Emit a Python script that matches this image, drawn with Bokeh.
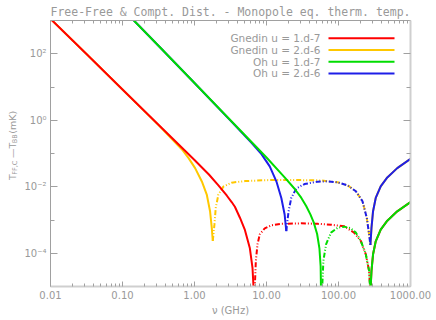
import math
from bokeh.plotting import figure
from bokeh.layouts import row
from bokeh.models import (Range1d, LogAxis, FixedTicker, CustomJSTickFormatter,
                          Label, Arrow)
from bokeh.core.properties import value
from bokeh.embed import file_html
from bokeh.resources import INLINE

# ---------------- data ----------------
# frequency in GHz, signed T_FF,C - T_BB in mK (negative parts drawn dash-dot)
gnedin_1e7_nu = [0.01, 0.0316, 0.1, 0.316, 1.0, 1.585, 2.148, 2.818, 3.281, 3.639, 4.276, 5.012, 5.875, 6.397, 6.668,
                 6.855, 7.112, 7.499, 8.072, 9.462, 11.70, 16.07, 30.34, 51.52, 78.70, 120.2, 165.2, 204.2, 239.3, 266.1, 277.3,
                 287.1, 302.0, 328.9, 385.5, 476.4, 654.6, 1000.0]
gnedin_1e7_dT = [1122, 97.7, 8.41, 0.728, 0.0635, 0.0234, 0.01096, 0.00537, 0.00347, 0.00251, 0.00117, 5.01e-4, 1.41e-4, 3.55e-5, 6.3e-6,
                 -7.9e-6, -5.89e-5, -1.86e-4, -3.72e-4, -5.62e-4, -6.92e-4, -7.67e-4, -7.94e-4, -7.67e-4, -7.24e-4, -6.46e-4, -4.13e-4, -2.34e-4, -9.33e-5, -2.95e-5, -6.3e-6,
                 2.95e-5, 9.33e-5, 2.29e-4, 5.13e-4, 9.55e-4, 1.82e-3, 3.47e-3]

gnedin_2e6_nu = [0.01, 0.0316, 0.1, 0.316, 0.670, 0.828, 1.02, 1.265, 1.48, 1.644, 1.738, 1.795,
                 1.892, 1.972, 2.148, 2.518, 3.281, 5.012, 10.52, 30.34, 57.28, 70.79, 97.27, 133.7, 174.2, 215.3, 247.2, 266.1, 277.3,
                 287.1, 302.0, 328.9, 385.5, 476.4, 654.6, 1000.0]
gnedin_2e6_dT = [1122, 97.7, 8.41, 0.713, 0.132, 0.0724, 0.0363, 0.01445, 0.00582, 0.00184, 5.82e-4, 2.34e-4,
                 -7.36e-4, -2.31e-3, -5.82e-3, -0.01009, -0.0133, -0.01479, -0.01585, -0.01585, -0.01549, -0.01455, -0.01358, -0.01104, -0.00731, -0.00366, -0.00116, -3.7e-4, -1.78e-4,
                 5.82e-4, 1.84e-3, 4.6e-3, 0.0103, 0.0191, 0.0363, 0.0695]

oh_1e7_nu = [0.126, 0.144, 0.316, 1.0, 3.162, 10.0, 17.86, 24.55, 30.34, 35.56, 40.83, 45.39, 50.47, 54.33, 56.49, 57.28,
             59.16, 61.66, 67.14, 78.70, 97.27, 120.2, 148.6, 174.2, 204.2, 239.3, 266.1, 277.3,
             287.1, 302.0, 328.9, 385.5, 476.4, 654.6, 1000.0]
oh_1e7_dT = [1349, 1000, 173.8, 13.18, 1.0, 0.0759, 0.01905, 0.00871, 0.00468, 0.00263, 0.00145, 8.32e-4, 3.8e-4, 1.41e-4, 3.98e-5, 5e-6,
             -7.9e-6, -5.89e-5, -1.86e-4, -4.17e-4, -5.82e-4, -6.31e-4, -5.62e-4, -4.17e-4, -2.34e-4, -9.33e-5, -2.95e-5, -6.3e-6,
             2.95e-5, 9.33e-5, 2.29e-4, 5.13e-4, 9.55e-4, 1.82e-3, 3.47e-3]

oh_2e6_nu = [0.126, 0.144, 0.316, 1.0, 3.162, 6.194, 8.511, 11.09, 13.71, 16.07, 17.86, 18.84,
             19.59, 20.28, 22.08, 25.88, 33.73, 51.52, 70.79, 97.27, 133.7, 174.2, 215.3, 247.2, 266.1, 277.3,
             287.1, 302.0, 328.9, 385.5, 476.4, 654.6, 1000.0]
oh_2e6_dT = [1349, 1000, 173.8, 13.18, 0.977, 0.209, 0.0955, 0.0409, 0.01455, 0.0046, 0.001466, 4.65e-4,
             -1.0e-3, -1.84e-3, -4.6e-3, -8.81e-3, -0.01208, -0.01426, -0.01455, -0.01358, -0.01104, -0.00731, -0.00366, -0.00116, -3.7e-4, -1.78e-4,
             5.82e-4, 1.84e-3, 4.6e-3, 0.0103, 0.0191, 0.0363, 0.0695]

series_labels = ["Gnedin u = 1.d-7", "Gnedin u = 2.d-6", "Oh u = 1.d-7", "Oh u = 2.d-6"]
series_colors = ["#FF0000", "#FFC800", "#00DD00", "#1E1EE8"]

x_ticks = [0.01, 0.1, 1, 10, 100, 1000]
x_tick_labels = ["0.01", "0.10", "1.00", "10.00", "100.00", "1000.00"]
x_minor = [m * 10.0 ** e for e in range(-2, 3) for m in range(2, 10)]
y_ticks = [1e-4, 1e-2, 1.0, 1e2]
y_tick_labels = ["10\u207b\u2074", "10\u207b\u00b2", "10\u2070", "10\u00b2"]
y_minor = [1e-3, 1e-1, 1e1]

title_text = "Free-Free & Compt. Dist. - Monopole eq. therm. temp."
x_label = "\u03bd (GHz)"
# y label pieces: (text, is_subscript)
y_label_parts = [("T", False), ("FF,C", True), ("\u2014", False), ("T", False), ("BB", True), ("(mK)", False)]

# ---------------- styling ----------------
GRAY = "#999999"
AX_DARK = "#A0A0A0"
AX_LIGHT = "#CFCFCF"
FONT = "DejaVu Sans"
LW = 21                       # width of the strip holding the y-axis title
W, H = 436 - LW, 320
ML, MR, MT, MB = 48 - LW, 26, 18, 34
DASH = "5 2 1 2 1 2"

p = figure(width=W, height=H, x_axis_type="log", y_axis_type="log",
           x_range=Range1d(0.01, 1000), y_range=Range1d(1e-5, 1e3),
           output_backend="svg", toolbar_location=None,
           min_border_left=ML, min_border_right=MR, min_border_top=MT, min_border_bottom=MB)
p.outline_line_color = None
p.xgrid.visible = False
p.ygrid.visible = False

p.title.text = title_text
p.title.align = "center"
p.title.text_font = "DejaVu Sans Mono"
p.title.text_font_size = "11.5px"
p.title.text_font_style = "normal"
p.title.text_color = GRAY
p.title.standoff = 4

fmt_code = """
const lt = Math.log10(tick);
for (let i = 0; i < vals.length; i++) {
  if (Math.abs(Math.log10(vals[i]) - lt) < 1e-6) return labs[i];
}
return '';
"""
blank = CustomJSTickFormatter(code="return '';")


def style_axis(ax, major_in, minor_in, line_color, line_width):
    ax.major_tick_in = major_in
    ax.major_tick_out = 0
    ax.minor_tick_in = minor_in
    ax.minor_tick_out = 0
    ax.axis_line_color = line_color
    ax.axis_line_width = line_width
    ax.major_tick_line_color = AX_DARK
    ax.minor_tick_line_color = AX_DARK
    ax.major_label_text_color = GRAY
    ax.major_label_text_font = FONT
    ax.axis_label_text_color = GRAY
    ax.axis_label_text_font = FONT
    ax.axis_label_text_font_style = "normal"


xa = p.xaxis[0]
xa.ticker = FixedTicker(ticks=x_ticks, minor_ticks=x_minor)
xa.formatter = CustomJSTickFormatter(args=dict(vals=x_ticks, labs=x_tick_labels), code=fmt_code)
style_axis(xa, 5, 3, AX_LIGHT, 2)
xa.major_label_text_font_size = "10px"
xa.major_label_standoff = 4
xa.axis_label = x_label
xa.axis_label_text_font_size = "10px"
xa.axis_label_standoff = 3

ya = p.yaxis[0]
ya.ticker = FixedTicker(ticks=y_ticks, minor_ticks=y_minor)
ya.formatter = CustomJSTickFormatter(args=dict(vals=y_ticks, labs=y_tick_labels), code=fmt_code)
style_axis(ya, 7, 4, AX_DARK, 1)
ya.major_label_text_font_size = "10px"
ya.major_label_standoff = 4

top = LogAxis(ticker=FixedTicker(ticks=x_ticks, minor_ticks=x_minor), formatter=blank,
              major_label_text_font_size="0px", major_label_standoff=0)
style_axis(top, 5, 3, AX_DARK, 1)
p.add_layout(top, "above")
right = LogAxis(ticker=FixedTicker(ticks=y_ticks, minor_ticks=y_minor), formatter=blank,
                major_label_text_font_size="0px", major_label_standoff=0)
style_axis(right, 7, 4, AX_LIGHT, 2)
p.add_layout(right, "right")


def split_runs(nu, dt):
    out = []
    xs, ys = [nu[0]], [abs(dt[0])]
    sign = dt[0] > 0
    for n, d in zip(nu[1:], dt[1:]):
        s = d > 0
        if s != sign:
            out.append((sign, xs, ys))
            xs, ys = [xs[-1]], [ys[-1]]
            sign = s
        xs.append(n)
        ys.append(abs(d))
    out.append((sign, xs, ys))
    return out


all_series = [(gnedin_1e7_nu, gnedin_1e7_dT), (gnedin_2e6_nu, gnedin_2e6_dT),
              (oh_1e7_nu, oh_1e7_dT), (oh_2e6_nu, oh_2e6_dT)]
draw_order = [1, 0, 3, 2]
for k in draw_order:
    nu, dt = all_series[k]
    for positive, xs, ys in split_runs(nu, dt):
        p.line(xs, ys, line_color=series_colors[k], line_width=2,
               line_dash="solid" if positive else DASH)

# ---------------- legend (text then line, upper right) ----------------
FH = H - MT - MB
leg_offsets = [19.7, 31.5, 43.2, 54.9]
for lab, col, off in zip(series_labels, series_colors, leg_offsets):
    yy = FH - off
    p.add_layout(Label(x=270, y=yy, x_units="screen", y_units="screen", text=lab,
                       text_align="right", text_baseline="middle", text_font=FONT,
                       text_font_size="10.5px", text_color=GRAY))
    p.add_layout(Arrow(end=None, x_start=278, y_start=yy, x_end=344, y_end=yy,
                       start_units="screen", end_units="screen",
                       line_color=col, line_width=2))

# ---------------- y axis title strip (with subscripts) ----------------
ylab = figure(width=LW, height=H, x_range=Range1d(0, LW), y_range=Range1d(0, H),
              output_backend="svg", toolbar_location=None,
              x_axis_location=None, y_axis_location=None,
              min_border_left=0, min_border_right=0, min_border_top=0, min_border_bottom=0)
ylab.outline_line_color = None
ylab.xgrid.visible = False
ylab.ygrid.visible = False

MAIN_FS, SUB_FS = 9.5, 6.5
adv_main = {"T": 6.4, "\u2014": 11.5, "(mK)": 23.0}
pos = H - 192.0          # start of the text (from the bottom of the strip)
for txt, sub in y_label_parts:
    fs = SUB_FS if sub else MAIN_FS
    xb = 14.0 if sub else 12.0
    ylab.text(x=[xb], y=[pos], text=[txt], angle=math.pi / 2,
              text_align="left", text_baseline="alphabetic",
              text_font=value(FONT), text_font_size=f"{fs}px", text_color=GRAY)
    if sub:
        pos += len(txt) * 4.4 + 2.5
    else:
        pos += adv_main.get(txt, 6.4)

layout = row(ylab, p, spacing=0)
open("out.html", "w").write(file_html(layout, INLINE))
